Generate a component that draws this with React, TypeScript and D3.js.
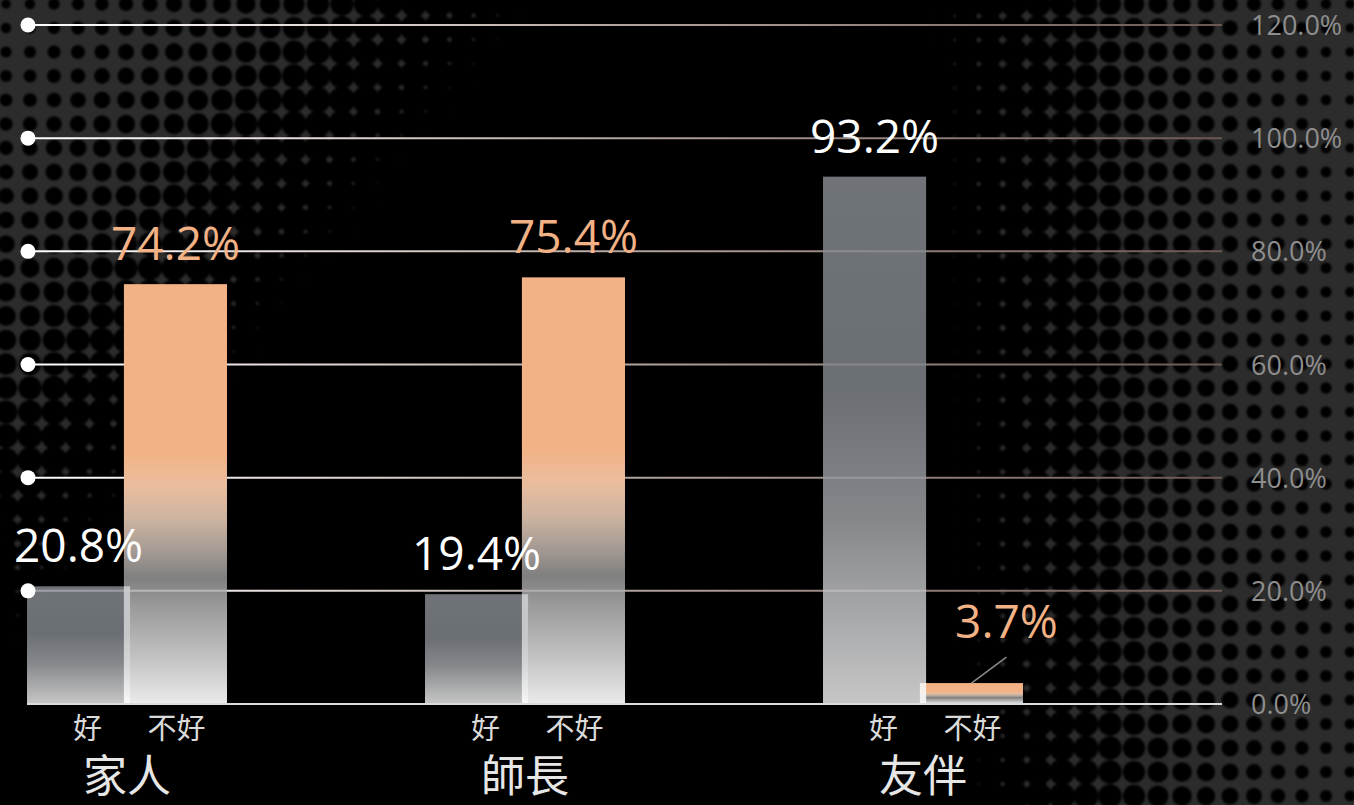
import React, { useMemo } from 'react';
import * as d3 from 'd3';

const categories = ['家人', '師長', '友伴'];
const seriesNames = ['好', '不好'];
const goodValues = [20.8, 19.4, 93.2];
const badValues = [74.2, 75.4, 3.7];
const yTicks = [0, 20, 40, 60, 80, 100, 120];

const W = 1354;
const H = 805;
const plotLeft = 28;
const plotRight = 1222;
const plotTop = 25;
const plotBottom = 704;

const NUM_FONT = '"Open Sans", "Noto Sans", sans-serif';
const CJK_FONT = '"Noto Sans CJK TC", "Noto Sans CJK SC", sans-serif';

function useDots() {
  return useMemo(() => {
    const s = 24;
    const dots: { cx: number; cy: number; r: number }[] = [];
    for (let j = -1; j <= Math.ceil(H / s) + 1; j++) {
      for (let i = -1; i <= Math.ceil(W / s) + 1; i++) {
        const cx = i * s + 6;
        const cy = j * s + 4;
        const leftDist = (520 * cx + 420 * cy - 218400) / 668.4;
        const rightDist = 1040 - cx + 0.04 * (cy - 400);
        const t = Math.min(leftDist, rightDist);
        const k = t > 0 ? 0.55 + 0.0016 * t : 0.55 + 0.0011 * t;
        const r = s * Math.max(0.14, Math.min(0.76, k));
        dots.push({ cx, cy, r });
      }
    }
    return dots;
  }, []);
}

export default function App() {
  const dots = useDots();
  const y = d3.scaleLinear().domain([0, 120]).range([plotBottom, plotTop]);
  const x = d3.scaleBand<string>().domain(categories).range([-72, 1122]).padding(0);
  const bw = x.bandwidth() * 0.259;
  const ov = bw * 0.06;
  const fmt = (v: number) => d3.format('.1f')(v) + '%';
  const center = (c: string) => (x(c) as number) + x.bandwidth() / 2;

  const rows = categories.map((c, i) => {
    const cx = center(c);
    const gx = cx - bw + ov / 2;
    const bx = cx - ov / 2;
    return { c, cx, gx, bx, good: goodValues[i], bad: badValues[i] };
  });

  return (
    <svg
      width={W}
      height={H}
      viewBox={`0 0 ${W} ${H}`}
      style={{ position: 'fixed', left: 0, top: 0, display: 'block' }}
    >
      <defs>
        <filter id="soft" x="-5%" y="-5%" width="110%" height="110%">
          <feGaussianBlur stdDeviation="1.3" />
        </filter>
        <linearGradient id="gridGrad" gradientUnits="userSpaceOnUse" x1={plotLeft} x2={plotRight} y1={0} y2={0}>
          <stop offset="0" stopColor="#ffffff" />
          <stop offset="0.25" stopColor="#e2d9d6" />
          <stop offset="0.5" stopColor="#b3a39e" />
          <stop offset="1" stopColor="#6b5752" />
        </linearGradient>
        <linearGradient id="goodGrad" x1="0" x2="0" y1="0" y2="1">
          <stop offset="0" stopColor="#888d93" stopOpacity="0.82" />
          <stop offset="0.4" stopColor="#82878d" stopOpacity="0.82" />
          <stop offset="0.65" stopColor="#a2a5a9" stopOpacity="0.82" />
          <stop offset="1" stopColor="#f2f2f2" stopOpacity="0.82" />
        </linearGradient>
        <linearGradient id="badGrad" x1="0" x2="0" y1="0" y2="1">
          <stop offset="0" stopColor="#f2b285" />
          <stop offset="0.4" stopColor="#f2b285" />
          <stop offset="0.48" stopColor="#ebbd9e" />
          <stop offset="0.56" stopColor="#d6bba7" stopOpacity="0.96" />
          <stop offset="0.64" stopColor="#b4aaa3" stopOpacity="0.9" />
          <stop offset="0.7" stopColor="#9c9c9c" stopOpacity="0.82" />
          <stop offset="0.77" stopColor="#bdbdbd" stopOpacity="0.82" />
          <stop offset="1" stopColor="#ffffff" stopOpacity="0.92" />
        </linearGradient>
      </defs>

      {/* background */}
      <rect x={0} y={0} width={W} height={H} fill="#2c2c2c" />
      <g filter="url(#soft)">
        {dots.map((d, i) => (
          <circle key={i} cx={d.cx} cy={d.cy} r={d.r} fill="#000" />
        ))}
      </g>

      {/* grid lines */}
      {yTicks.filter((t) => t > 0).map((t) => (
        <line key={'g' + t} x1={plotLeft} x2={plotRight} y1={y(t)} y2={y(t)} stroke="url(#gridGrad)" strokeWidth={2} />
      ))}

      {/* bars */}
      {rows.map((r) => (
        <g key={r.c}>
          <rect x={r.bx} y={y(r.bad)} width={bw} height={y(0) - y(r.bad)} fill="url(#badGrad)" />
          <rect x={r.gx} y={y(r.good)} width={bw} height={y(0) - y(r.good)} fill="url(#goodGrad)" />
          <rect
            x={r.bx}
            y={y(Math.min(r.good, r.bad))}
            width={ov}
            height={y(0) - y(Math.min(r.good, r.bad))}
            fill="#ffffff"
            opacity={0.5}
          />
        </g>
      ))}

      {/* axis line */}
      <line x1={plotLeft - 1} x2={plotRight} y1={y(0)} y2={y(0)} stroke="#dcdcdc" strokeWidth={2} />

      {/* grid dots */}
      {yTicks.filter((t) => t > 0).map((t) => (
        <circle key={'d' + t} cx={plotLeft} cy={y(t)} r={7.5} fill="#ffffff" />
      ))}

      {/* right axis labels */}
      {yTicks.map((t) => (
        <text
          key={'t' + t}
          x={1251}
          y={y(t) + 10}
          fontFamily={NUM_FONT}
          fontSize={27}
          fill="#8e8e8e"
        >
          {fmt(t)}
        </text>
      ))}

      {/* value labels */}
      {rows.map((r) => {
        const gc = r.gx + bw / 2;
        const bc = r.bx + bw / 2;
        const small = r.bad < 10;
        const lx = small ? bc + 35 : bc;
        const ly = small ? y(r.bad) - 45 : y(r.bad) - 24;
        return (
          <g key={'v' + r.c}>
            <text x={gc} y={y(r.good) - 24} textAnchor="middle" fontFamily={NUM_FONT} fontSize={46} fill="#ffffff">
              {fmt(r.good)}
            </text>
            <text x={lx} y={ly} textAnchor="middle" fontFamily={NUM_FONT} fontSize={46} fill="#f2b285">
              {fmt(r.bad)}
            </text>
            {small && (
              <line x1={bc} y1={y(r.bad)} x2={bc + 35} y2={y(r.bad) - 26} stroke="#8a8a8a" strokeWidth={1.5} />
            )}
          </g>
        );
      })}

      {/* series labels under bars */}
      {rows.map((r) => (
        <g key={'s' + r.c}>
          <text x={r.gx + bw / 2 + 9} y={739} textAnchor="middle" fontFamily={CJK_FONT} fontSize={29} fill="#dadada">
            {seriesNames[0]}
          </text>
          <text x={r.bx + bw / 2 + 1} y={739} textAnchor="middle" fontFamily={CJK_FONT} fontSize={29} fill="#dadada">
            {seriesNames[1]}
          </text>
        </g>
      ))}

      {/* category labels */}
      {rows.map((r) => (
        <text key={'c' + r.c} x={r.cx} y={792} textAnchor="middle" fontFamily={CJK_FONT} fontSize={44} fill="#e6e6e6">
          {r.c}
        </text>
      ))}
    </svg>
  );
}
